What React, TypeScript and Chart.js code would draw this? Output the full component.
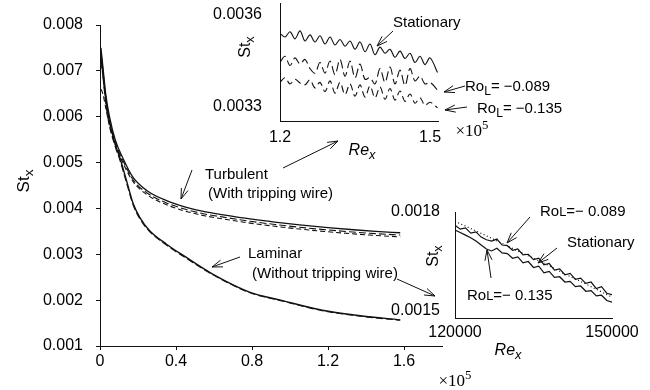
import React, { useEffect, useRef } from "react";
import { Chart, registerables } from "chart.js";
Chart.register(...registerables);

// ---------- Main chart data (Re_x in units of 1e5) ----------
const turbX = [0.005, 0.015, 0.03, 0.05, 0.08, 0.12, 0.175, 0.25, 0.35, 0.45, 0.55, 0.65, 0.79, 0.92, 1.05, 1.2, 1.35, 1.45, 1.58];
const turbSolid = [0.0075, 0.0071, 0.0065, 0.006, 0.0055, 0.0051, 0.00467, 0.00438, 0.00417, 0.00403, 0.00393, 0.00386, 0.00377, 0.0037, 0.00364, 0.00358, 0.00353, 0.0035, 0.00347];
const turbDashA = [0.0072, 0.0069, 0.0064, 0.0059, 0.00545, 0.00505, 0.00462, 0.00433, 0.00412, 0.00398, 0.00388, 0.00381, 0.00372, 0.00365, 0.00359, 0.00353, 0.00348, 0.00345, 0.00342];
const turbDashB = [0.0066, 0.0065, 0.0062, 0.0058, 0.0054, 0.005, 0.00458, 0.00429, 0.00408, 0.00394, 0.00384, 0.00377, 0.00368, 0.00361, 0.00355, 0.00349, 0.00344, 0.00341, 0.00338];

const lamX = [0.005, 0.015, 0.03, 0.05, 0.08, 0.105, 0.14, 0.175, 0.21, 0.26, 0.35, 0.44, 0.6, 0.79, 0.95, 1.17, 1.35, 1.58];
const lamSolid = [0.0074, 0.007, 0.0064, 0.0059, 0.0054, 0.0051, 0.0046, 0.0041, 0.0038, 0.00352, 0.00322, 0.00297, 0.00255, 0.00217, 0.002, 0.00178, 0.00167, 0.00157];
const lamDash = [0.0073, 0.0069, 0.0063, 0.0058, 0.00535, 0.00505, 0.00455, 0.00407, 0.00377, 0.0035, 0.0032, 0.00295, 0.00254, 0.00216, 0.00199, 0.00177, 0.00166, 0.00156];

const mainXTicks = [0, 0.4, 0.8, 1.2, 1.6];
const mainYTicks = [0.001, 0.002, 0.003, 0.004, 0.005, 0.006, 0.007, 0.008];

// ---------- Top inset data ----------
const topX = [1.2, 1.21, 1.22, 1.23, 1.24, 1.25, 1.26, 1.27, 1.28, 1.29, 1.3, 1.31, 1.32, 1.33, 1.34, 1.35, 1.36, 1.37, 1.38, 1.39, 1.4, 1.41, 1.42, 1.43, 1.44, 1.45, 1.46, 1.47, 1.48, 1.49, 1.5, 1.515];
const topStationary = [0.00354, 0.003528, 0.003545, 0.003522, 0.003548, 0.003515, 0.003535, 0.003512, 0.003532, 0.003505, 0.003528, 0.003502, 0.00352, 0.003498, 0.003515, 0.003488, 0.003512, 0.00348, 0.003505, 0.00347, 0.003495, 0.003475, 0.003488, 0.003462, 0.003482, 0.003458, 0.003475, 0.003445, 0.003465, 0.003438, 0.00346, 0.003412];
const topRo089 = [0.003445, 0.003465, 0.003435, 0.00346, 0.00344, 0.003455, 0.003425, 0.00341, 0.003445, 0.00341, 0.00345, 0.003405, 0.003455, 0.0034, 0.00345, 0.003395, 0.00344, 0.00339, 0.003395, 0.003375, 0.003425, 0.00338, 0.00343, 0.003375, 0.00342, 0.00337, 0.003425, 0.003385, 0.0034, 0.003375, 0.00338, 0.003355];
const topRo135 = [0.00338, 0.003395, 0.003375, 0.00339, 0.003378, 0.003372, 0.003388, 0.003362, 0.00338, 0.00335, 0.003385, 0.003345, 0.00338, 0.00334, 0.003375, 0.003335, 0.003372, 0.003332, 0.003368, 0.00333, 0.003365, 0.003325, 0.00336, 0.003322, 0.003352, 0.003318, 0.003342, 0.003312, 0.00333, 0.003305, 0.003315, 0.003297];
const topXTicks = [1.2, 1.5];
const topYTicks = [0.0033, 0.0036];

// ---------- Bottom inset data ----------
const botX = [120000, 121000, 122000, 123000, 124000, 125000, 126000, 127000, 128000, 129000, 130000, 131000, 132000, 133000, 134000, 135000, 136000, 137000, 138000, 139000, 140000, 141000, 142000, 143000, 144000, 145000, 146000, 147000, 148000, 149000, 150000];
const botRo089 = [0.00176, 0.001748, 0.001752, 0.001736, 0.00174, 0.001724, 0.001716, 0.001712, 0.001718, 0.0017, 0.001698, 0.001684, 0.001688, 0.00167, 0.001672, 0.001656, 0.00166, 0.00164, 0.001644, 0.001624, 0.001628, 0.00161, 0.001614, 0.001596, 0.0016, 0.001584, 0.001588, 0.001568, 0.001574, 0.001554, 0.00155];
const botRo135 = [0.001745, 0.001738, 0.00173, 0.001722, 0.001712, 0.0017, 0.001688, 0.001682, 0.00169, 0.001676, 0.001674, 0.00166, 0.001664, 0.001646, 0.00165, 0.001632, 0.001636, 0.001616, 0.00162, 0.001602, 0.001604, 0.001588, 0.00159, 0.001574, 0.001576, 0.00156, 0.001562, 0.001546, 0.001548, 0.001532, 0.001527];
const botStatX = [120000, 123000, 126000, 129000, 132000, 135000, 138000, 141000, 144000, 147000, 150000];
const botStationary = [0.001772, 0.00175, 0.001728, 0.001705, 0.001682, 0.00166, 0.001637, 0.001612, 0.00159, 0.001566, 0.001542];
const botXTicks = [120000, 150000];
const botYTicks = [0.0015, 0.0018];

const SANS = "'Liberation Sans', Arial, Helvetica, sans-serif";
const SERIF = "'Liberation Serif', 'Times New Roman', serif";
const INK = "#111";

function series(xs: number[], ys: number[], dash: number[] = [], width = 1.2, smooth = false, tension = 0) {
  return {
    data: xs.map((x, i) => ({ x, y: ys[i] })),
    borderColor: INK,
    borderWidth: width,
    borderDash: dash,
    pointRadius: 0,
    fill: false,
    tension,
    cubicInterpolationMode: smooth ? "monotone" : "default",
  };
}

function axis(o: {
  min: number; max: number; ticks: number[]; horizontal: boolean; size: number;
  pad: number; fmt: (v: number) => string; marks: boolean;
}) {
  return {
    type: "linear",
    min: o.min,
    max: o.max,
    afterBuildTicks: (s: any) => { s.ticks = o.ticks.map((v) => ({ value: v })); },
    afterFit: (s: any) => {
      if (o.horizontal) s.height = o.size; else s.width = o.size;
      s.paddingTop = 0; s.paddingBottom = 0; s.paddingLeft = 0; s.paddingRight = 0;
    },
    grid: { display: o.marks, drawOnChartArea: false, drawTicks: o.marks, tickLength: 4, color: INK, lineWidth: 1 },
    border: { display: true, color: INK, width: 1 },
    ticks: {
      padding: o.pad, color: "#000", autoSkip: false, maxRotation: 0, minRotation: 0,
      font: { family: SANS, size: 16 },
      callback: (v: any) => o.fmt(Number(v)),
    },
  };
}

function baseOptions(padding: any, x: any, y: any) {
  return {
    responsive: false,
    animation: false,
    devicePixelRatio: 1,
    events: [],
    layout: { padding },
    plugins: { legend: { display: false }, tooltip: { enabled: false } },
    scales: { x, y },
  };
}

function mainConfig(): any {
  return {
    type: "line",
    data: {
      datasets: [
        series(turbX, turbSolid, [], 1.3, true),
        series(turbX, turbDashA, [7, 3], 1.1, true),
        series(turbX, turbDashB, [5, 3], 1.1, true),
        series(lamX, lamSolid, [], 1.4, true),
        series(lamX, lamDash, [7, 3], 1.1, true),
      ],
    },
    options: baseOptions(
      { left: 0, top: 25, right: 208, bottom: 0 },
      axis({ min: 0, max: 1.8, ticks: mainXTicks, horizontal: true, size: 44, pad: 2, marks: true, fmt: (v) => (v === 0 ? "0" : v.toFixed(1)) }),
      axis({ min: 0.001, max: 0.008, ticks: mainYTicks, horizontal: false, size: 100, pad: 13, marks: true, fmt: (v) => v.toFixed(3) })
    ),
  };
}

function topConfig(): any {
  return {
    type: "line",
    data: {
      datasets: [
        series(topX, topStationary, [], 1.1, false, 0.35),
        series(topX, topRo089, [9, 4], 1.1, false, 0.35),
        series(topX, topRo135, [7, 4], 1.1, false, 0.35),
      ],
    },
    options: baseOptions(
      { left: 0, top: 3, right: 22, bottom: 0 },
      axis({ min: 1.2, max: 1.516, ticks: topXTicks, horizontal: true, size: 39, pad: 7, marks: false, fmt: (v) => v.toFixed(1) }),
      axis({ min: 0.003254, max: 0.003639, ticks: topYTicks, horizontal: false, size: 100, pad: 18, marks: false, fmt: (v) => v.toFixed(4) })
    ),
  };
}

function botConfig(): any {
  return {
    type: "line",
    data: {
      datasets: [
        series(botX, botRo089, [], 1.2),
        series(botX, botRo135, [], 1.2),
        series(botStatX, botStationary, [1, 2.5], 1.2),
      ],
    },
    options: baseOptions(
      { left: 0, top: 22, right: 38, bottom: 0 },
      axis({ min: 120000, max: 150000, ticks: botXTicks, horizontal: true, size: 42, pad: 5, marks: false, fmt: (v) => String(Math.round(v)) }),
      axis({ min: 0.001479, max: 0.0018, ticks: botYTicks, horizontal: false, size: 95, pad: 15, marks: false, fmt: (v) => v.toFixed(4) })
    ),
  };
}

function ChartBox(props: { left: number; top: number; width: number; height: number; make: () => any }) {
  const ref = useRef<HTMLCanvasElement>(null);
  useEffect(() => {
    const c = new Chart(ref.current as HTMLCanvasElement, props.make());
    return () => c.destroy();
  }, []);
  return (
    <canvas
      ref={ref}
      width={props.width}
      height={props.height}
      style={{ position: "absolute", left: props.left, top: props.top, width: props.width, height: props.height }}
    />
  );
}

function Label(props: { x: number; y: number; children: any; size?: number; italic?: boolean; center?: boolean; rotate?: boolean; serif?: boolean }) {
  const t = props.rotate
    ? "translate(-50%,-50%) rotate(-90deg)"
    : props.center ? "translate(-50%,-50%)" : "translateY(-50%)";
  return (
    <div
      style={{
        position: "absolute", left: props.x, top: props.y, transform: t, whiteSpace: "nowrap",
        fontFamily: props.serif ? SERIF : SANS, fontSize: props.size || 15, lineHeight: 1,
        fontStyle: props.italic ? "italic" : "normal", color: "#000",
      }}
    >
      {props.children}
    </div>
  );
}

const Sub = (p: { c: string }) => <span style={{ fontSize: "0.8em", position: "relative", top: "0.3em" }}>{p.c}</span>;
const StX = () => <span>St<Sub c="x" /></span>;
const ReX = () => <span>Re<Sub c="x" /></span>;
const Times5 = () => <span>×10<span style={{ fontSize: "0.75em", position: "relative", top: "-0.55em" }}>5</span></span>;

const arrows: [number, number, number, number][] = [
  [192, 170, 181, 199],
  [283, 168, 338, 141],
  [240, 257, 212, 267],
  [397, 279, 435, 296],
  [393, 31, 377, 46],
  [465, 86, 444, 92],
  [467, 107, 445, 110],
  [530, 217, 507, 243],
  [557, 248, 538, 263],
  [491, 278, 487, 250],
];

function Arrows() {
  return (
    <svg width={650} height={390} style={{ position: "absolute", left: 0, top: 0, pointerEvents: "none" }}>
      {arrows.map(([x1, y1, x2, y2], i) => {
        const a = Math.atan2(y2 - y1, x2 - x1);
        const L = 11, s = 0.33;
        const h1 = [x2 - L * Math.cos(a - s), y2 - L * Math.sin(a - s)];
        const h2 = [x2 - L * Math.cos(a + s), y2 - L * Math.sin(a + s)];
        return (
          <g key={i} stroke="#111" strokeWidth={1} fill="none">
            <line x1={x1} y1={y1} x2={x2} y2={y2} />
            <polyline points={`${h1[0]},${h1[1]} ${x2},${y2} ${h2[0]},${h2[1]}`} />
          </g>
        );
      })}
    </svg>
  );
}

export default function App() {
  return (
    <div style={{ position: "absolute", left: 0, top: 0, width: 650, height: 390, background: "#fff", overflow: "hidden" }}>
      <ChartBox left={0} top={0} width={650} height={390} make={mainConfig} />
      <ChartBox left={180} top={0} width={280} height={160} make={topConfig} />
      <ChartBox left={360} top={190} width={290} height={170} make={botConfig} />
      <Arrows />

      <Label x={23} y={181} rotate size={17}><StX /></Label>
      <Label x={455} y={380} center serif size={17}><Times5 /></Label>

      <Label x={205} y={173}>Turbulent</Label>
      <Label x={208} y={192}>(With tripping wire)</Label>
      <Label x={248} y={252}>Laminar</Label>
      <Label x={252} y={272}>(Without tripping wire)</Label>

      <Label x={245} y={47} rotate size={16}><StX /></Label>
      <Label x={362} y={150} center italic size={16}><ReX /></Label>
      <Label x={472} y={130} center serif size={17}><Times5 /></Label>
      <Label x={393} y={21}>Stationary</Label>
      <Label x={465} y={85}>Ro<Sub c="L" />= −0.089</Label>
      <Label x={477} y={107}>Ro<Sub c="L" />= −0.135</Label>

      <Label x={433} y={256} rotate size={16}><StX /></Label>
      <Label x={508} y={350} center italic size={16}><ReX /></Label>
      <Label x={540} y={211}>Ro<span style={{ fontSize: "0.85em" }}>L</span>=−  0.089</Label>
      <Label x={567} y={241}>Stationary</Label>
      <Label x={467} y={295}>Ro<span style={{ fontSize: "0.85em" }}>L</span>=−  0.135</Label>
    </div>
  );
}
